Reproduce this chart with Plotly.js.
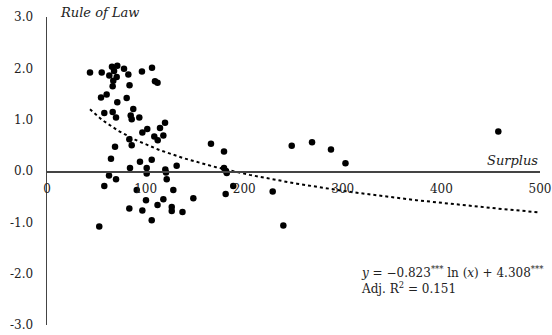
<!DOCTYPE html>
<html>
<head>
<meta charset="utf-8">
<script src="https://cdn.plot.ly/plotly-3.0.1.min.js"></script>
<style>html,body{margin:0;padding:0;background:#fff;}#chart{width:552px;height:335px;}</style>
</head>
<body>
<div id="chart"></div>
<script>
// Surplus (x) and Rule of Law (y)
const surplus = [43.6,55.5,63.2,65.9,71.3,68.0,70.7,67.2,66.6,78.1,82.5,83.7,96.3,106.5,109.5,112.1,
  54.8,60.5,71.3,80.8,87.5,58.1,66.6,70.0,84.9,85.9,93.6,101.7,96.7,114.6,119.7,108.8,112.3,118.0,
  83.5,85.9,69.0,166.3,179.5,64.9,94.3,106.2,84.2,101.1,101.1,120.0,120.7,121.4,131.5,62.9,70.0,
  58.1,91.0,128.1,100.4,118.0,148.4,83.5,96.7,112.1,126.5,126.5,137.4,106.2,53.0,179.5,181.5,182.3,
  248.2,268.8,288.0,302.7,188.9,228.9,181.2,239.7,457.7];
const ruleOfLaw = [1.92,1.92,1.86,2.03,2.05,1.95,1.83,1.76,1.65,1.99,1.88,1.67,1.94,2.01,1.75,1.72,
  1.43,1.49,1.34,1.42,1.21,1.13,1.15,1.04,1.08,1.01,1.04,0.82,0.75,0.84,0.94,0.67,0.60,0.69,
  0.62,0.50,0.47,0.53,0.38,0.24,0.18,0.22,0.06,0.06,-0.05,0.03,-0.03,-0.16,0.10,-0.09,-0.16,
  -0.29,-0.37,-0.37,-0.57,-0.55,-0.53,-0.73,-0.77,-0.66,-0.70,-0.78,-0.80,-0.96,-1.08,0.06,0.00,-0.04,
  0.49,0.56,0.42,0.15,-0.29,-0.40,-0.45,-1.06,0.77];

// fitted curve y = a ln(x) + b (printed on the chart)
const fitA = -0.823, fitB = 4.308;
const fitXStart = 43.6, fitXEnd = 500;

const xTicks = [0,100,200,300,400,500];
const xTickText = ['0','100','200','300','400','500'];
const yTicks = [-3,-2,-1,0,1,2,3];
const yTickText = ['-3.0','-2.0','-1.0','0.0','1.0','2.0','3.0'];

const fitX = [], fitY = [];
for (let i = 0; i <= 200; i++) {
  const x = fitXStart + (fitXEnd - fitXStart) * i / 200;
  fitX.push(x); fitY.push(fitA * Math.log(x) + fitB);
}

const serif = 'DejaVu Serif, Liberation Serif, serif';
const data = [
  {x: fitX, y: fitY, mode: 'lines', line: {color: '#000', dash: 'dot', width: 2}, hoverinfo: 'skip'},
  {x: surplus, y: ruleOfLaw, mode: 'markers', marker: {color: '#000', size: 6.5}}
];
const layout = {
  width: 552, height: 335,
  margin: {l: 47, r: 12, t: 17, b: 10},
  showlegend: false,
  paper_bgcolor: '#fff', plot_bgcolor: '#fff',
  font: {family: serif, size: 12, color: '#222'},
  xaxis: {range: [0, 500], anchor: 'free', position: 0.5, showline: true, linecolor: '#444', linewidth: 1.5,
    showgrid: false, zeroline: false, ticks: '', tickvals: xTicks, ticktext: xTickText, ticklabelstandoff: 6,
    tickfont: {family: serif, size: 12, color: '#222'}},
  yaxis: {range: [-3, 3], showline: true, linecolor: '#444', linewidth: 1.5, showgrid: false, zeroline: false,
    ticks: '', tickvals: yTicks, ticktext: yTickText, ticklabelstandoff: 10,
    tickfont: {family: serif, size: 12, color: '#222'}},
  annotations: [
    {text: '<i>Rule of Law</i>', xref: 'paper', yref: 'paper', x: 0.022, y: 1.045, xanchor: 'left', yanchor: 'top',
      showarrow: false, font: {family: serif, size: 13, color: '#222'}},
    {text: '<i>Surplus</i>', xref: 'x', yref: 'y', x: 500, y: 0, xanchor: 'right', yanchor: 'bottom', yshift: 1,
      showarrow: false, font: {family: serif, size: 13, color: '#222'}},
    {text: '<i>y</i> = \u22120.823<sup>***</sup> ln (<i>x</i>) + 4.308<sup>***</sup><br>Adj. R<sup>2</sup> = 0.151',
      xref: 'x', yref: 'y', x: 316, y: -1.78, xanchor: 'left', yanchor: 'top', align: 'left',
      showarrow: false, font: {family: serif, size: 12, color: '#222'}}
  ]
};
Plotly.newPlot('chart', data, layout, {displayModeBar: false, staticPlot: true});
</script>
</body>
</html>
